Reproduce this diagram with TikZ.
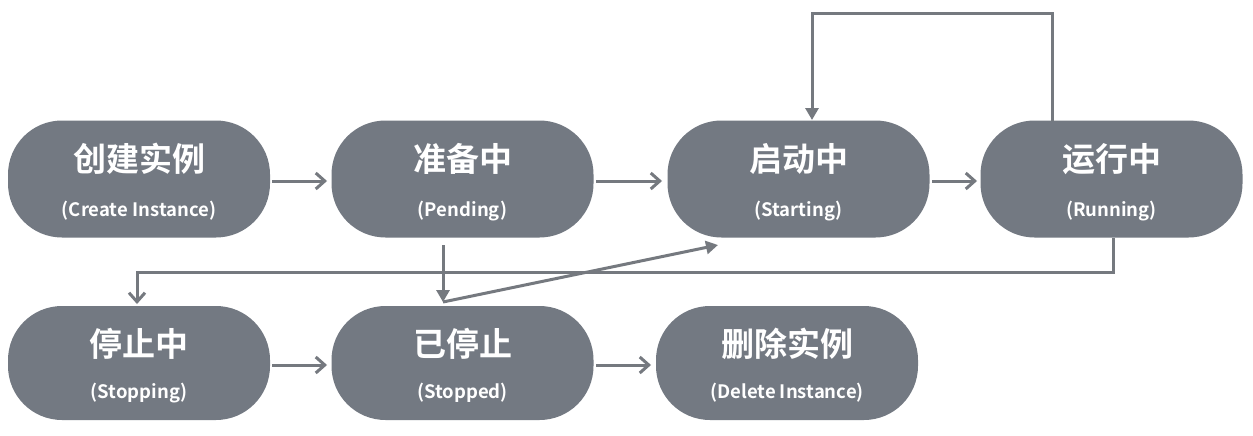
\documentclass[tikz,border=0pt]{standalone}
\usepackage{fontspec}
\setmainfont{Noto Sans CJK SC}[BoldFont={* Bold}]
\newfontfamily\cjkb{Noto Sans CJK SC Bold}
\usetikzlibrary{arrows.meta,positioning}
\definecolor{boxgray}{HTML}{737982}
\definecolor{linegray}{HTML}{75797F}
\tikzset{
  state/.style={fill=boxgray, rounded corners=54pt, minimum width=262pt, minimum height=117pt, inner sep=0pt},
  conn/.style={draw=linegray, line width=3pt, -{Straight Barb[length=9pt,width=16pt,line width=3pt]}},
  connf/.style={draw=linegray, line width=3pt, -{Triangle[length=12pt,width=13pt]}},
  cntxt/.style={text=white, font=\cjkb\fontsize{33}{35}\selectfont},
  entxt/.style={text=white, font=\cjkb\fontsize{18.5}{20}\selectfont}
}
\begin{document}
\begin{tikzpicture}[x=1pt,y=-1pt]
\useasboundingbox (0,0) rectangle (1253,436);
\fill[white] (0,0) rectangle (1253,436);
% row 1
\node[state] (create) at (139,179) {};
\node[state] (pending) at (462.5,179) {};
\node[state] (starting) at (798.5,179) {};
\node[state] (running) at (1111.5,179) {};
% row 2
\node[state, minimum height=114pt] (stopping) at (139,363) {};
\node[state, minimum height=114pt] (stopped) at (462.5,363) {};
\node[state, minimum height=114pt] (delete) at (787,363) {};
% texts
\node[cntxt] (t1) at (139,159) {创建实例};
\node[entxt] (e1) at (139,211) {(Create Instance)};
\node[cntxt] (t2) at (462.5,159) {准备中};
\node[entxt] (e2) at (462.5,211) {(Pending)};
\node[cntxt] (t3) at (798.5,159) {启动中};
\node[entxt] (e3) at (798.5,211) {(Starting)};
\node[cntxt] (t4) at (1111.5,159) {运行中};
\node[entxt] (e4) at (1111.5,211) {(Running)};
\node[cntxt] (t5) at (139,344) {停止中};
\node[entxt] (e5) at (139,393) {(Stopping)};
\node[cntxt] (t6) at (462.5,344) {已停止};
\node[entxt] (e6) at (462.5,393) {(Stopped)};
\node[cntxt] (t7) at (787,344) {删除实例};
\node[entxt] (e7) at (787,393) {(Delete Instance)};
% connectors
\coordinate (c1) at (272,181);
\coordinate (c2) at (327,181);
\draw[conn] (c1) -- (c2);
\coordinate (c3) at (596,181);
\coordinate (c4) at (662,181);
\draw[conn] (c3) -- (c4);
\coordinate (c5) at (932,181);
\coordinate (c6) at (977,181);
\draw[conn] (c5) -- (c6);
% loop on top
\coordinate (l1) at (1052,121);
\coordinate (l2) at (812,120);
\draw[connf] (l1) -- (1052,14) -- (812,14) -- (l2);
% running to stopping
\coordinate (r1) at (1113,238);
\coordinate (r2) at (137,304);
\draw[conn] (r1) -- (1113,272) -- (137,272) -- (r2);
% pending down to stopped
\coordinate (p1) at (443,245);
\coordinate (p2) at (443,302);
\draw[connf] (p1) -- (p2);
\coordinate (s1) at (718,245);
\draw[connf] (p2) -- (s1);
% row 2 horizontals
\coordinate (d1) at (272,365);
\coordinate (d2) at (327,365);
\draw[conn] (d1) -- (d2);
\coordinate (d3) at (596,365);
\coordinate (d4) at (651,365);
\draw[conn] (d3) -- (d4);
\end{tikzpicture}
\end{document}
